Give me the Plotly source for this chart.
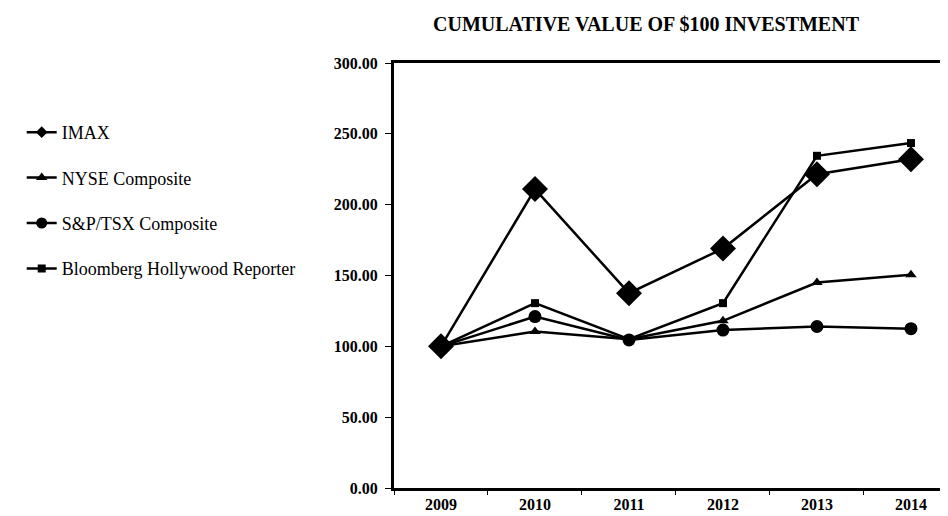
import plotly.graph_objects as go

years = ["2009", "2010", "2011", "2012", "2013", "2014"]
imax = [100.0, 211.0, 137.5, 169.0, 221.5, 232.0]
nyse = [100.0, 110.5, 105.0, 118.0, 145.0, 150.5]
sptsx = [100.0, 121.0, 104.5, 111.5, 114.0, 112.5]
bloomberg = [100.0, 130.5, 105.0, 130.5, 234.5, 243.5]
y_ticks = [0, 50, 100, 150, 200, 250, 300]

names = ["IMAX", "NYSE Composite", "S&P/TSX Composite", "Bloomberg Hollywood Reporter"]
series = [imax, nyse, sptsx, bloomberg]
symbols = ["diamond", "triangle-up", "circle", "square"]
sizes = [20, 10, 13, 8]
legend_sizes = [9, 10, 11, 8]

fig = go.Figure()
order = [3, 1, 2, 0]
for i in order:
    fig.add_trace(go.Scatter(
        x=years, y=series[i], mode="lines+markers", name=names[i],
        line=dict(color="black", width=2.5),
        marker=dict(symbol=symbols[i], size=sizes[i], color="black"),
        showlegend=False, cliponaxis=False,
    ))
for i in range(4):
    fig.add_trace(go.Scatter(
        x=[None], y=[None], mode="lines+markers", name=names[i],
        line=dict(color="black", width=2.5),
        marker=dict(symbol=symbols[i], size=legend_sizes[i], color="black"),
        legendgroup=names[i], showlegend=True,
    ))

serif = "Liberation Serif, Times New Roman, serif"
# page body has an 8px margin, so the figure is sized/offset to compensate
W, H = 940, 508
fig.update_layout(
    width=W, height=H,
    margin=dict(l=386, r=0, t=55, b=28),
    paper_bgcolor="white", plot_bgcolor="white",
    font=dict(family=serif, color="black", size=14),
    title=dict(text="<b>CUMULATIVE VALUE OF $100 INVESTMENT</b>",
               x=638/W, xanchor="center", y=1 - 16/H, yanchor="middle",
               font=dict(family=serif, size=20, color="black")),
    legend=dict(x=-0.672, xanchor="left", y=0.88, yanchor="top",
                font=dict(family=serif, size=18, color="black"),
                tracegroupgap=19, bgcolor="rgba(0,0,0,0)"),
    showlegend=True,
)
fig.update_xaxes(
    type="category", range=[-0.5, 5.394],
    showline=True, linecolor="black", linewidth=3, mirror=True,
    ticks="outside", tickson="boundaries", ticklen=4, tickcolor="black", tickwidth=1,
    showgrid=False, zeroline=False,
    tickfont=dict(family=serif, size=16, color="black"),
    tickprefix="<b>", ticksuffix="</b>",
)
fig.update_yaxes(
    range=[0, 300], tickvals=y_ticks,
    ticktext=[f"<b>{v:.2f}</b>" for v in y_ticks],
    showline=True, linecolor="black", linewidth=3,
    ticks="outside", ticklen=6, tickcolor="black", tickwidth=1,
    ticklabelstandoff=4,
    showgrid=False, zeroline=False,
    tickfont=dict(family=serif, size=16, color="black"),
)
fig.write_html("out.html")
